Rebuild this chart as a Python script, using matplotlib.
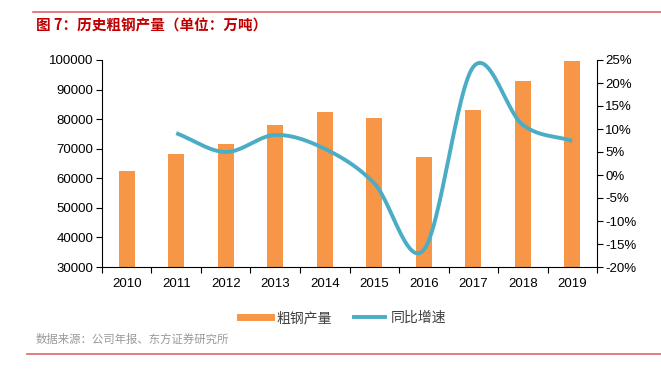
import numpy as np
import matplotlib
matplotlib.use('Agg')
from matplotlib import pyplot as plt
from matplotlib.lines import Line2D

plt.rcParams['font.family'] = ['Liberation Sans', 'Noto Sans CJK SC', 'DejaVu Sans']

# data
years = ['2010', '2011', '2012', '2013', '2014', '2015', '2016', '2017', '2018', '2019']
output = [62600, 68300, 71600, 77900, 82300, 80400, 67200, 83200, 92800, 99600]  # 万吨
growth = [None, 9.1, 5.0, 8.7, 5.7, -1.8, -16.3, 23.5, 10.9, 7.4]  # %

orange = '#F79646'
blue = '#4BACC6'
red = '#E06666'
cjk = ['Noto Sans CJK SC', 'DejaVu Sans']


def catmull(xs, ys, n=30):
    # excel style smoothed line
    px, py = [], []
    m = len(xs)
    for i in range(m - 1):
        x0, y0 = (xs[i - 1], ys[i - 1]) if i > 0 else (2 * xs[i] - xs[i + 1], 2 * ys[i] - ys[i + 1])
        x3, y3 = (xs[i + 2], ys[i + 2]) if i + 2 < m else (2 * xs[i + 1] - xs[i], 2 * ys[i + 1] - ys[i])
        x1, y1, x2, y2 = xs[i], ys[i], xs[i + 1], ys[i + 1]
        t = np.linspace(0, 1, n)
        for a0, a1, a2, a3, out in ((x0, x1, x2, x3, px), (y0, y1, y2, y3, py)):
            out.extend(0.5 * (2 * a1 + (-a0 + a2) * t + (2 * a0 - 5 * a1 + 4 * a2 - a3) * t ** 2
                              + (-a0 + 3 * a1 - 3 * a2 + a3) * t ** 3))
    return px, py


fig = plt.figure(figsize=(6.61, 3.75), dpi=100)
ax = fig.add_axes([0.1543, 0.288, 0.7489, 0.552])
x = np.arange(len(years))
ax.bar(x, output, width=0.33, color=orange, zorder=2)
ax.set_xlim(-0.5, len(years) - 0.5)
ax.set_ylim(30000, 100000)
ax.set_yticks(range(30000, 100001, 10000))
ax.set_xticks(x)
ax.set_xticklabels(years)
ax.set_xticks(np.arange(-0.5, len(years)), minor=True)
ax.tick_params(axis='x', which='major', length=0, pad=8, labelsize=9.5)
ax.tick_params(axis='x', which='minor', length=4, width=0.8)
ax.tick_params(axis='y', length=4, width=0.8, labelsize=9.5, pad=2)
for s in ['top', 'right']:
    ax.spines[s].set_visible(False)
ax.spines['left'].set_linewidth(0.8)
ax.spines['bottom'].set_linewidth(0.8)

ax2 = ax.twinx()
gx = [i for i, g in enumerate(growth) if g is not None]
gy = [g for g in growth if g is not None]
sx, sy = catmull(gx, gy)
ax2.plot(sx, sy, color=blue, lw=2.8, solid_capstyle='butt', zorder=3)
ax2.set_ylim(-20, 25)
ax2.set_yticks(range(-20, 26, 5))
ax2.set_yticklabels([f'{v}%' for v in range(-20, 26, 5)])
ax2.tick_params(axis='y', length=4, width=0.8, labelsize=9.5, pad=2)
for s in ['top', 'left', 'bottom']:
    ax2.spines[s].set_visible(False)
ax2.spines['right'].set_linewidth(0.8)

handles = [Line2D([0], [0], color=orange, lw=5), Line2D([0], [0], color=blue, lw=2.8)]
fig.legend(handles, ['粗钢产量', '同比增速'], loc='center', bbox_to_anchor=(0.519, 0.152),
           ncol=2, frameon=False, prop={'family': cjk, 'size': 10}, labelcolor='#404040',
           handlelength=2.2, columnspacing=1.6, handletextpad=0.4)

fig.add_artist(Line2D([0.05, 1.0], [0.968, 0.968], color=red, lw=1.2))
fig.add_artist(Line2D([0.041, 1.0], [0.056, 0.056], color=red, lw=1.2))
fig.text(0.054, 0.932, '图 7：历史粗钢产量（单位：万吨）', color='#C00000', fontsize=10.5,
         fontweight='bold', va='center', family=cjk)
fig.text(0.054, 0.095, '数据来源：公司年报、东方证券研究所', color='#999999', fontsize=8.2,
         va='center', family=cjk)

fig.savefig('out.png', dpi=100)
